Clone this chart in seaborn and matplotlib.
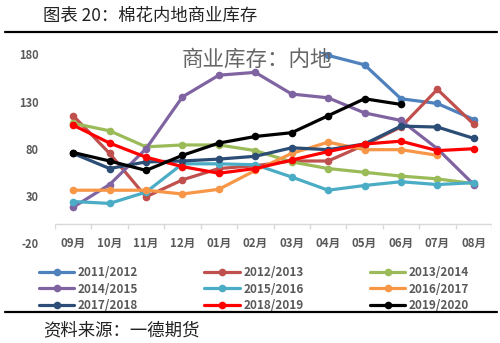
import numpy as np
import pandas as pd
import matplotlib
matplotlib.use("Agg")
import matplotlib.pyplot as plt
from matplotlib.lines import Line2D
import seaborn as sns

months = ["09月", "10月", "11月", "12月", "01月", "02月", "03月", "04月", "05月", "06月", "07月", "08月"]
nan = np.nan
s2011 = [nan, nan, nan, nan, nan, nan, 200, 179, 169, 133, 128, 111]
s2012 = [115, 75, 29, 47, 59, 62, 67, 67, 84, 103, 143, 106]
s2013 = [107, 99, 82, 84, 84, 78, 66, 59, 55, 51, 48, 43]
s2014 = [18, 42, 80, 135, 158, 161, 138, 134, 118, 110, 80, 42]
s2015 = [24, 22, 34, 64, 64, 63, 50, 36, 41, 45, 42, 44]
s2016 = [36, 36, 36, 32, 37, 57, 75, 87, 79, 79, 73, nan]
s2017 = [75, 59, 66, 67, 69, 72, 81, 79, 85, 104, 103, 91]
s2018 = [105, 86, 71, 61, 54, 59, 68, 77, 85, 88, 78, 80]
s2019 = [76, 67, 57, 73, 86, 93, 97, 115, 133, 127, nan, nan]
labels = ["2011/2012", "2012/2013", "2013/2014", "2014/2015", "2015/2016",
          "2016/2017", "2017/2018", "2018/2019", "2019/2020"]
yticks = [-20, 30, 80, 130, 180]

colors = ["#4F81BD", "#C0504D", "#9BBB59", "#8064A2", "#4BACC6",
          "#F79646", "#2C4D75", "#FF0000", "#000000"]
series = [s2011, s2012, s2013, s2014, s2015, s2016, s2017, s2018, s2019]

sns.set_theme(style="white")
plt.rcParams['font.family'] = ['Noto Sans CJK SC', 'DejaVu Sans']
gray = "#595959"

fig = plt.figure(figsize=(5.0, 3.43), dpi=100)
ax = fig.add_axes([0.11, 0.2915, 0.874, 0.558])

x = np.arange(len(months))
handles = []
for lab, col, vals in zip(labels, colors, series):
    df = pd.DataFrame({"x": x, "y": vals}).dropna()
    sns.lineplot(data=df, x="x", y="y", ax=ax, color=col, lw=2.3,
                 marker="o", markersize=5.5, markeredgewidth=0, label=lab, legend=False)
    handles.append(Line2D([0], [0], color=col, lw=2.3, marker="o", markersize=5.5,
                          markeredgewidth=0))

ax.set_xlim(-0.5, len(months) - 0.5)
ax.set_ylim(-20, 183)
ax.set_yticks(yticks)
ax.set_yticklabels([str(v) for v in yticks], color=gray, fontsize=8, fontweight="bold")
ax.tick_params(axis="y", length=0, pad=12)
ax.set_xticks([])
ax.set_xlabel("")
ax.set_ylabel("")
for sp in ax.spines.values():
    sp.set_visible(False)

# category axis at zero
ax.axhline(0, color="#D9D9D9", lw=1.0, zorder=0)
bounds = np.arange(len(months) + 1) - 0.5
ax.vlines(bounds, -5, 0, color="#D9D9D9", lw=1.0, zorder=0)
for i, m in enumerate(months):
    ax.text(i, -20, m, ha="center", va="center", color=gray, fontsize=8.3,
            fontweight="bold")

ax.text(0.462, 0.955, "商业库存：内地", transform=ax.transAxes, ha="center", va="center",
        fontsize=15.5, color="#666666")

# legend, row-major order
order = [0, 3, 6, 1, 4, 7, 2, 5, 8]
leg = fig.legend([handles[i] for i in order], [labels[i] for i in order],
                 loc="upper left", bbox_to_anchor=(0.078, 0.225), ncol=3,
                 frameon=False, handlelength=3.0, handletextpad=0.3,
                 columnspacing=5.6, labelspacing=0.32, borderpad=0, borderaxespad=0,
                 prop={"weight": "bold", "size": 8.5})
for t in leg.get_texts():
    t.set_color(gray)

fig.text(0.086, 1 - 16 / 343, "图表 20：棉花内地商业库存", ha="left", va="center",
         fontsize=12.5, color="#222222")
fig.add_artist(Line2D([0.01, 0.994], [1 - 32 / 343] * 2, color="black", lw=1.6))
fig.add_artist(Line2D([0.01, 0.994], [1 - 312 / 343] * 2, color="black", lw=1.6))
fig.text(0.086, 1 - 330 / 343, "资料来源：一德期货", ha="left", va="center",
         fontsize=12.5, color="#222222")

fig.savefig("out.png", dpi=100)
